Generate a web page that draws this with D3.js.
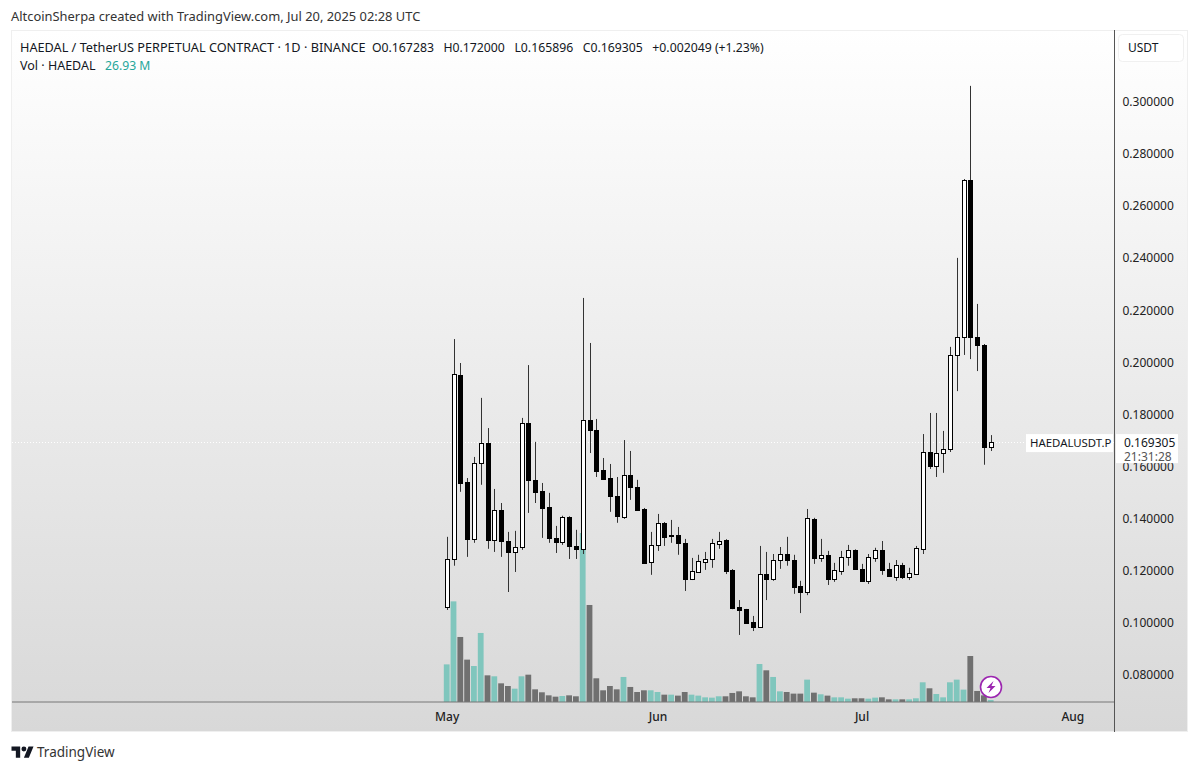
<!DOCTYPE html>
<html>
<head>
<meta charset="utf-8">
<script src="https://cdn.jsdelivr.net/npm/d3@7"></script>
<style>
    body { margin: 0; background: #fff; }
    text { font-family: "Noto Sans", sans-serif; }
</style>
</head>
<body>
<svg id="chart" width="1200" height="771"></svg>
<script>
// daily candles, first one is May 1 2025, last one Jul 20 2025
const startDate = Date.UTC(2025, 4, 1);
const opens = [0.1059, 0.1244, 0.1951, 0.1540, 0.1321, 0.1613, 0.1690, 0.1317, 0.1433, 0.1313, 0.1271, 0.1290, 0.1767, 0.1548, 0.1506, 0.1444, 0.1325, 0.1310, 0.1406, 0.1294, 0.1283, 0.1778, 0.1740, 0.1586, 0.1555, 0.1486, 0.1406, 0.1567, 0.1521, 0.1436, 0.1233, 0.1298, 0.1383, 0.1333, 0.1336, 0.1306, 0.1167, 0.1194, 0.1233, 0.1244, 0.1302, 0.1317, 0.1202, 0.1059, 0.1050, 0.1002, 0.0982, 0.1186, 0.1167, 0.1240, 0.1263, 0.1240, 0.1141, 0.1117, 0.1398, 0.1248, 0.1260, 0.1167, 0.1198, 0.1252, 0.1279, 0.1206, 0.1160, 0.1248, 0.1279, 0.1206, 0.1175, 0.1221, 0.1175, 0.1186, 0.1283, 0.1655, 0.1602, 0.1651, 0.1667, 0.2028, 0.2097, 0.2700, 0.2097, 0.2066, 0.167283];
const highs = [0.1329, 0.2089, 0.1997, 0.1555, 0.1636, 0.1863, 0.1747, 0.1513, 0.1459, 0.1348, 0.1352, 0.1786, 0.1989, 0.1694, 0.1536, 0.1498, 0.1371, 0.1410, 0.1408, 0.1356, 0.2247, 0.2074, 0.1782, 0.1632, 0.1609, 0.1559, 0.1701, 0.1659, 0.1548, 0.1440, 0.1348, 0.1417, 0.1386, 0.1394, 0.1367, 0.1321, 0.1248, 0.1260, 0.1271, 0.1321, 0.1348, 0.1320, 0.1205, 0.1086, 0.1052, 0.1025, 0.1294, 0.1271, 0.1263, 0.1290, 0.1329, 0.1260, 0.1160, 0.1436, 0.1402, 0.1321, 0.1275, 0.1229, 0.1275, 0.1298, 0.1281, 0.1225, 0.1263, 0.1287, 0.1313, 0.1229, 0.1240, 0.1229, 0.1210, 0.1294, 0.1724, 0.1805, 0.1805, 0.1736, 0.2059, 0.2401, 0.2704, 0.3062, 0.2224, 0.2070, 0.172000];
const lows = [0.1048, 0.1218, 0.1502, 0.1252, 0.1306, 0.1529, 0.1283, 0.1271, 0.1252, 0.1117, 0.1194, 0.1279, 0.1421, 0.1459, 0.1325, 0.1306, 0.1267, 0.1298, 0.1244, 0.1244, 0.1263, 0.1651, 0.1559, 0.1550, 0.1425, 0.1383, 0.1398, 0.1471, 0.1429, 0.1225, 0.1183, 0.1275, 0.1294, 0.1306, 0.1260, 0.1121, 0.1163, 0.1190, 0.1202, 0.1210, 0.1283, 0.1186, 0.1051, 0.0952, 0.0996, 0.0967, 0.0980, 0.1086, 0.1160, 0.1206, 0.1218, 0.1110, 0.1036, 0.1105, 0.1225, 0.1233, 0.1144, 0.1156, 0.1183, 0.1218, 0.1204, 0.1158, 0.1148, 0.1233, 0.1183, 0.1175, 0.1160, 0.1167, 0.1163, 0.1183, 0.1263, 0.1590, 0.1559, 0.1575, 0.1655, 0.1889, 0.2028, 0.2012, 0.1966, 0.1606, 0.165896];
const closes = [0.1244, 0.1955, 0.1536, 0.1321, 0.1613, 0.1690, 0.1317, 0.1433, 0.1313, 0.1271, 0.1290, 0.1767, 0.1548, 0.1502, 0.1440, 0.1325, 0.1310, 0.1406, 0.1294, 0.1283, 0.1778, 0.1740, 0.1582, 0.1552, 0.1486, 0.1410, 0.1567, 0.1521, 0.1433, 0.1229, 0.1298, 0.1383, 0.1329, 0.1336, 0.1306, 0.1167, 0.1198, 0.1236, 0.1244, 0.1306, 0.1313, 0.1198, 0.1055, 0.1048, 0.0998, 0.0982, 0.1186, 0.1167, 0.1240, 0.1263, 0.1240, 0.1137, 0.1117, 0.1402, 0.1248, 0.1260, 0.1167, 0.1202, 0.1252, 0.1279, 0.1206, 0.1160, 0.1252, 0.1279, 0.1202, 0.1179, 0.1221, 0.1175, 0.1190, 0.1287, 0.1655, 0.1602, 0.1651, 0.1667, 0.2028, 0.2097, 0.2700, 0.2097, 0.2066, 0.1673, 0.169305];
// volume in millions
const volumes = [508, 1359, 878, 572, 486, 932, 360, 347, 252, 216, 180, 347, 369, 171, 131, 90, 72, 81, 90, 77, 2282, 1310, 320, 158, 216, 171, 338, 203, 135, 158, 158, 135, 99, 99, 86, 135, 99, 86, 63, 59, 77, 77, 122, 144, 77, 63, 513, 428, 338, 144, 135, 113, 113, 302, 126, 104, 86, 63, 63, 45, 50, 50, 45, 59, 63, 36, 36, 36, 36, 50, 266, 185, 108, 63, 266, 302, 167, 621, 149, 90, 26.93];

const priceTicks = [0.08, 0.10, 0.12, 0.14, 0.16, 0.18, 0.20, 0.22, 0.24, 0.26, 0.28, 0.30];
const monthTicks = [Date.UTC(2025, 4, 1), Date.UTC(2025, 5, 1), Date.UTC(2025, 6, 1), Date.UTC(2025, 7, 1)];
const lastPrice = 0.169305;

const dayMs = 24 * 60 * 60 * 1000;
const svg = d3.select("#chart");
const ink = "#131722";

// Set the ranges
const x = d3.scaleUtc()
    .domain([Date.UTC(2025, 4, 1), Date.UTC(2025, 7, 1)])
    .range([446.7, 1072.3]);
const y = d3.scaleLinear().domain([0.08, 0.30]).range([674.5, 102]);
const yVol = d3.scaleLinear().domain([0, d3.max(volumes)]).range([702, 533]);

// Panel background
const grad = svg.append("defs").append("linearGradient")
    .attr("id", "bg")
    .attr("x1", 0).attr("y1", 0).attr("x2", 0).attr("y2", 1);
grad.append("stop").attr("offset", "0%").attr("stop-color", "#ffffff");
grad.append("stop").attr("offset", "100%").attr("stop-color", "#d8d8d8");

svg.append("rect")
    .attr("x", 11.5).attr("y", 30.5)
    .attr("width", 1176).attr("height", 701)
    .attr("fill", "url(#bg)")
    .attr("stroke", "#efefef");

// Header line
svg.append("text")
    .attr("x", 11).attr("y", 21)
    .attr("font-size", 12.9)
    .attr("fill", "#333")
    .text("AltcoinSherpa created with TradingView.com, Jul 20, 2025 02:28 UTC");

// Volume bars
const rows = volumes.map(function (v, i) {
    return { date: startDate + i * dayMs, open: opens[i], high: highs[i], low: lows[i], close: closes[i], volume: v };
});

svg.selectAll(".vol")
    .data(rows)
    .enter().append("rect")
    .attr("class", "vol")
    .attr("x", function (d) { return x(d.date) - 2.9; })
    .attr("y", function (d) { return yVol(d.volume); })
    .attr("width", 5.8)
    .attr("height", function (d) { return 702 - yVol(d.volume); })
    .attr("fill", function (d) { return d.close >= d.open ? "#80c6bd" : "#707070"; });

// Last price dotted line
svg.append("line")
    .attr("x1", 12).attr("x2", 1114)
    .attr("y1", Math.round(y(lastPrice)) + 0.5).attr("y2", Math.round(y(lastPrice)) + 0.5)
    .attr("stroke", "#fff")
    .attr("stroke-dasharray", "1 2");

// Candles
const candles = svg.selectAll(".candle")
    .data(rows)
    .enter().append("g")
    .attr("class", "candle")
    .attr("transform", function (d) { return `translate(${Math.round(x(d.date))},0)`; });

candles.append("line")
    .attr("x1", 0.5).attr("x2", 0.5)
    .attr("y1", function (d) { return y(d.high); })
    .attr("y2", function (d) { return y(d.low); })
    .attr("stroke", "#333")
    .attr("stroke-width", 1);

candles.append("rect")
    .attr("x", -1.5)
    .attr("width", 4)
    .attr("y", function (d) { return Math.round(y(Math.max(d.open, d.close))) + 0.5; })
    .attr("height", function (d) { return Math.max(1, Math.round(Math.abs(y(d.open) - y(d.close)))); })
    .attr("fill", function (d) { return d.close >= d.open ? "#fff" : "#000"; })
    .attr("stroke", "#000")
    .attr("stroke-width", 1);

// Time axis line and price axis line
svg.append("line")
    .attr("x1", 12).attr("x2", 1114)
    .attr("y1", 702).attr("y2", 702)
    .attr("stroke", "#777")
    .attr("stroke-width", 1.2);

svg.append("line")
    .attr("x1", 1114.5).attr("x2", 1114.5)
    .attr("y1", 30).attr("y2", 732)
    .attr("stroke", "#555");

// Adding the Y Axis
const yAxis = svg.append("g")
    .attr("transform", "translate(1114.5,0)")
    .call(d3.axisRight(y).tickValues(priceTicks).tickFormat(d3.format(".6f")).tickSize(0).tickPadding(8));
yAxis.select(".domain").remove();
yAxis.selectAll("text")
    .style("font-family", '"Noto Sans", sans-serif')
    .attr("font-size", 12)
    .attr("fill", "#222");

// Adding the X Axis
const xAxis = svg.append("g")
    .attr("transform", "translate(0,702)")
    .call(d3.axisBottom(x).tickValues(monthTicks).tickFormat(d3.utcFormat("%b")).tickSize(0).tickPadding(10));
xAxis.select(".domain").remove();
xAxis.selectAll("text")
    .style("font-family", '"Noto Sans", sans-serif')
    .attr("font-size", 12)
    .attr("font-weight", 500)
    .attr("fill", "#222");

// Legend
const legend = svg.append("g").attr("font-size", 12.2).attr("fill", ink);
legend.append("text")
    .attr("x", 20).attr("y", 51.5)
    .attr("font-size", 12.7)
    .text("HAEDAL / TetherUS PERPETUAL CONTRACT · 1D · BINANCE");
legend.append("text")
    .attr("x", 372).attr("y", 51.5)
    .attr("font-size", 12.25)
    .attr("xml:space", "preserve")
    .text("O0.167283   H0.172000   L0.165896   C0.169305   +0.002049 (+1.23%)");
legend.append("text")
    .attr("x", 20).attr("y", 69.5)
    .attr("font-size", 12.5)
    .text("Vol · HAEDAL");
legend.append("text")
    .attr("x", 105).attr("y", 69.5)
    .attr("fill", "#26a69a")
    .text("26.93 M");

// USDT button
svg.append("rect")
    .attr("x", 1118.5).attr("y", 34.5)
    .attr("width", 65).attr("height", 27)
    .attr("rx", 4)
    .attr("fill", "#fff")
    .attr("stroke", "#f0f0f0");
svg.append("text")
    .attr("x", 1128).attr("y", 52)
    .attr("font-size", 12)
    .attr("fill", ink)
    .text("USDT");

// Last price labels
const lastY = y(lastPrice);
svg.append("rect")
    .attr("x", 1026).attr("y", lastY - 8)
    .attr("width", 87).attr("height", 18)
    .attr("fill", "#fff");
svg.append("text")
    .attr("x", 1030).attr("y", lastY + 5)
    .attr("font-size", 11.4)
    .attr("fill", ink)
    .text("HAEDALUSDT.P");
svg.append("rect")
    .attr("x", 1116).attr("y", lastY - 8)
    .attr("width", 62).attr("height", 29)
    .attr("fill", "#fff");
svg.append("text")
    .attr("x", 1124).attr("y", lastY + 5)
    .attr("font-size", 12)
    .attr("fill", ink)
    .text("0.169305");
svg.append("text")
    .attr("x", 1124).attr("y", lastY + 19)
    .attr("font-size", 12)
    .attr("fill", "#555")
    .text("21:31:28");

// Lightning badge
const badge = svg.append("g").attr("transform", "translate(991,687)");
badge.append("circle")
    .attr("r", 10.5)
    .attr("fill", "#fff")
    .attr("stroke", "#9c27b0")
    .attr("stroke-width", 1.6);
badge.append("path")
    .attr("d", "M2.5 -6 L-4.5 1 L-0.5 1 L-2.5 6 L4.5 -1 L0.5 -1 Z")
    .attr("fill", "#9c27b0");

// TradingView logo
const logo = svg.append("g").attr("transform", "translate(11.5,744) scale(0.62)");
logo.append("path")
    .attr("d", "M14 22H7V11H0V4h14v18zM28 22h-8l7.5-18h8L28 22z")
    .attr("fill", ink);
logo.append("circle")
    .attr("cx", 20).attr("cy", 8).attr("r", 4)
    .attr("fill", ink);
svg.append("text")
    .attr("x", 37).attr("y", 757)
    .attr("font-size", 13.5)
    .attr("fill", "#333")
    .text("TradingView");
</script>
</body>
</html>
